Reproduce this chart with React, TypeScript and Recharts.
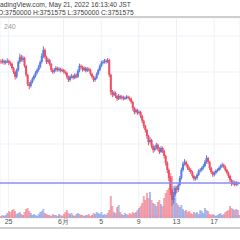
import { ComposedChart, Bar, Cell, XAxis, YAxis, CartesianGrid, ReferenceLine } from 'recharts'

// 4h candles, prices in thousand yen
const firstOpenK = 4056
const closeK = [
  4054, 4057, 4052, 4054, 4057, 4052, 4049, 4039, 4029, 4017,
  4034, 4054, 4067, 4059, 4064, 4044, 4022, 3999, 3994, 4004,
  4012, 4019, 4027, 4034, 4042, 4054, 4069, 4084, 4067, 4054,
  4059, 4049, 4034, 4029, 4034, 4039, 4034, 4037, 4032, 4034,
  4029, 4027, 4017, 4009, 4017, 4019, 4014, 4022, 4017, 4032,
  4044, 4042, 4034, 4039, 4032, 4037, 4034, 4024, 4017, 4009,
  4014, 4024, 4034, 4044, 4052, 4054, 4057, 4054, 4059, 4022,
  3979, 3972, 3977, 3969, 3962, 3969, 3964, 3967, 3962, 3964,
  3967, 3964, 3962, 3954, 3939, 3929, 3934, 3927, 3929, 3919,
  3907, 3894, 3884, 3869, 3854, 3859, 3844, 3834, 3839, 3847,
  3837, 3829, 3839, 3832, 3819, 3802, 3784, 3764, 3734, 3709,
  3722, 3739, 3734, 3747, 3764, 3784, 3799, 3804, 3797, 3789,
  3784, 3779, 3769, 3762, 3764, 3772, 3782, 3784, 3789, 3794,
  3804, 3814, 3804, 3789, 3779, 3772, 3777, 3782, 3784, 3789,
  3794, 3797, 3792, 3784, 3777, 3769, 3759, 3749, 3754, 3747,
  3752, 3750, 3751.575,
]
const highK = [
  4061, 4062, 4060, 4059, 4063, 4060, 4056, 4053, 4042, 4032,
  4038, 4058, 4075, 4072, 4070, 4067, 4047, 4025, 4004, 4008,
  4016, 4023, 4031, 4038, 4047, 4058, 4076, 4093, 4088, 4070,
  4064, 4062, 4052, 4038, 4039, 4044, 4042, 4041, 4040, 4038,
  4037, 4033, 4030, 4020, 4021, 4024, 4022, 4026, 4025, 4036,
  4050, 4048, 4045, 4043, 4042, 4041, 4040, 4037, 4027, 4020,
  4018, 4028, 4038, 4048, 4057, 4059, 4062, 4061, 4064, 4062,
  4025, 3984, 3982, 3980, 3972, 3974, 3972, 3971, 3970, 3968,
  3971, 3970, 3968, 3965, 3957, 3942, 3938, 3937, 3933, 3932,
  3922, 3910, 3897, 3887, 3872, 3866, 3862, 3848, 3845, 3852,
  3850, 3841, 3844, 3842, 3835, 3822, 3806, 3788, 3768, 3738,
  3729, 3745, 3744, 3752, 3769, 3790, 3805, 3811, 3808, 3800,
  3793, 3788, 3782, 3772, 3768, 3776, 3786, 3789, 3793, 3799,
  3809, 3821, 3817, 3807, 3792, 3782, 3781, 3786, 3788, 3793,
  3798, 3802, 3800, 3795, 3787, 3780, 3772, 3762, 3758, 3757,
  3756, 3755, 3751.575,
]
const lowK = [
  4049, 4050, 4047, 4048, 4051, 4046, 4044, 4035, 4024, 4010,
  4013, 4030, 4050, 4055, 4054, 4040, 4017, 3994, 3986, 3990,
  4000, 4008, 4015, 4023, 4030, 4038, 4050, 4064, 4062, 4049,
  4050, 4045, 4029, 4024, 4026, 4030, 4030, 4030, 4028, 4029,
  4025, 4022, 4012, 4004, 4005, 4013, 4010, 4011, 4013, 4014,
  4028, 4037, 4030, 4031, 4028, 4029, 4030, 4020, 4013, 4004,
  4005, 4011, 4021, 4031, 4041, 4048, 4050, 4050, 4051, 4016,
  3972, 3966, 3968, 3964, 3957, 3959, 3960, 3960, 3958, 3959,
  3961, 3960, 3957, 3950, 3933, 3923, 3925, 3922, 3923, 3914,
  3901, 3888, 3878, 3862, 3846, 3850, 3838, 3827, 3830, 3835,
  3832, 3824, 3826, 3827, 3813, 3795, 3776, 3756, 3722, 3694,
  3700, 3716, 3726, 3729, 3743, 3760, 3780, 3795, 3792, 3784,
  3779, 3774, 3764, 3757, 3758, 3760, 3769, 3778, 3780, 3785,
  3791, 3800, 3799, 3784, 3774, 3767, 3768, 3773, 3778, 3781,
  3785, 3790, 3788, 3780, 3773, 3764, 3754, 3744, 3746, 3743,
  3744, 3745, 3750,
]
const volume = [
  20, 30, 20, 30, 50, 70, 60, 80, 90, 70,
  40, 50, 60, 40, 30, 60, 90, 100, 70, 50,
  30, 40, 30, 20, 40, 60, 70, 90, 50, 40,
  30, 30, 20, 40, 30, 30, 20, 40, 30, 20,
  40, 60, 80, 50, 40, 50, 30, 20, 40, 50,
  40, 30, 30, 20, 30, 30, 40, 20, 30, 50,
  40, 60, 50, 40, 60, 30, 40, 30, 50, 80,
  220, 120, 60, 50, 110, 130, 60, 40, 30, 50,
  40, 30, 50, 40, 60, 50, 60, 80, 100, 120,
  150, 220, 180, 250, 200, 260, 180, 150, 140, 120,
  160, 180, 140, 120, 200, 250, 280, 300, 450, 420,
  320, 200, 150, 130, 110, 130, 90, 70, 80, 60,
  70, 50, 40, 60, 50, 60, 40, 80, 70, 50,
  100, 80, 70, 40, 30, 40, 30, 20, 30, 40,
  50, 30, 40, 60, 70, 80, 120, 100, 90, 80,
  90, 80, 30,
]

const tickIndex = [5, 40, 64, 88, 112, 136]
const tickLabel = ['25', '6月', '5', '9', '13', '17']
const gridPriceK = [4119, 4074, 4029, 3984, 3939, 3894, 3849, 3804, 3759, 3714, 3669]
const lastPrice = 3751575

const UP = '#5a7de0'
const DOWN = '#ee4f63'

const rows = closeK.map((c, i) => ({
  i,
  open: (i === 0 ? firstOpenK : closeK[i - 1]) * 1000,
  close: c * 1000,
  high: highK[i] * 1000,
  low: lowK[i] * 1000,
  vol: volume[i],
}))

function Candle(props: any) {
  const { x, y, width, height, payload } = props
  const { open, close, high, low } = payload
  const span = high - low || 1
  const toY = (v: number) => y + ((high - v) / span) * height
  const top = toY(Math.max(open, close))
  const bot = toY(Math.min(open, close))
  const color = close >= open ? UP : DOWN
  return (
    <g>
      <rect x={x + width / 2 - 0.5} y={y} width={1} height={Math.max(height, 1)} fill={color} />
      <rect x={x} y={top} width={width} height={Math.max(bot - top, 1)} fill={color} />
    </g>
  )
}

const text: any = { fontSize: 6.7, lineHeight: '8px', height: 8, color: '#3c3c3c', whiteSpace: 'nowrap' }

export default function App() {
  return (
    <div
      style={{
        position: 'fixed',
        left: 0,
        top: 0,
        width: 240,
        height: 240,
        overflow: 'hidden',
        background: '#fff',
        fontFamily: '"Liberation Sans", Arial, sans-serif',
      }}
    >
      <div style={{ ...text, paddingTop: 1, marginLeft: -6 }}>TradingView.com, May 21, 2022 16:13:40 JST</div>
      <div style={{ ...text, height: 7, marginLeft: -2 }}>O:3750000 H:3751575 L:3750000 C:3751575</div>
      <div style={{ height: 2, background: '#cfcfcf' }} />
      <ComposedChart
        width={240}
        height={222}
        data={rows}
        margin={{ top: 0, right: 0, bottom: 0, left: 0 }}
        barCategoryGap={0}
        barGap={0}
      >
        <CartesianGrid xAxisId="x" yAxisId="p" stroke="#edf1f7" strokeWidth={1} />
        <XAxis
          xAxisId="x"
          dataKey="i"
          type="category"
          ticks={tickIndex}
          interval={0}
          height={22}
          axisLine={false}
          tickLine={false}
          tickSize={0}
          tickMargin={1}
          tick={{ fontSize: 7, fill: '#555' }}
          tickFormatter={(v: number) => tickLabel[tickIndex.indexOf(v)] ?? ''}
        />
        <XAxis xAxisId="v" dataKey="i" type="category" hide height={0} />
        <YAxis
          yAxisId="p"
          hide
          width={0}
          domain={[3664000, 4164000]}
          ticks={gridPriceK.map((p) => p * 1000)}
          allowDataOverflow
        />
        <YAxis yAxisId="v" orientation="right" hide width={0} domain={[0, 2000]} />
        <Bar xAxisId="v" yAxisId="v" dataKey="vol" isAnimationActive={false}>
          {rows.map((r) => (
            <Cell key={r.i} fill={r.close >= r.open ? UP : DOWN} fillOpacity={0.5} />
          ))}
        </Bar>
        <ReferenceLine xAxisId="x" yAxisId="p" y={lastPrice} stroke="#8c8cf0" strokeWidth={1.5} />
        <Bar
          xAxisId="x"
          yAxisId="p"
          dataKey={(d: any) => [d.low, d.high]}
          shape={<Candle />}
          isAnimationActive={false}
        />
      </ComposedChart>
      <div style={{ position: 'absolute', left: 4, top: 23, fontSize: 7, lineHeight: '8px', color: '#9a9a9a' }}>240</div>
      <div style={{ position: 'absolute', left: 0, top: 227, width: 240, height: 1.5, background: '#cfcfcf' }} />
    </div>
  )
}
